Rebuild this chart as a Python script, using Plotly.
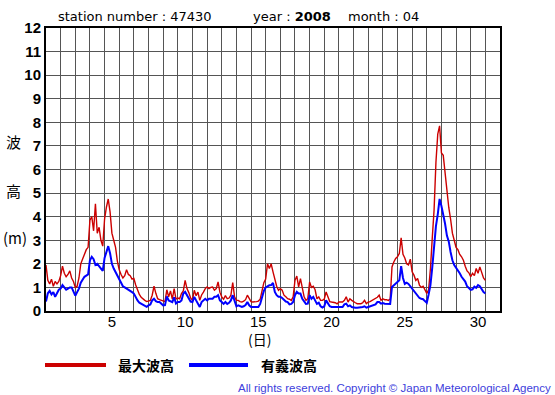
import plotly.graph_objects as go

# ---------------- data (3-hourly readings, April 2008, station 47430) ----------------
step_hours = 3
max_wave = [
    1.95, 1.3, 1.15, 1.35, 1.05, 1.25, 1.15, 1.25,
    1.5, 1.9, 1.6, 1.45, 1.55, 1.7, 1.4, 1.25,
    1.0, 1.05, 1.4, 2.0, 2.2, 2.45, 2.6, 2.7,
    3.85, 4.0, 3.4, 4.55, 3.3, 3.55, 3.0, 2.75,
    3.9, 4.4, 4.75, 4.2, 3.3, 3.0, 2.7, 2.1,
    1.75, 1.55, 1.4, 1.5, 1.75, 1.55, 1.5, 1.35,
    1.38, 1.1, 0.88, 0.7, 0.58, 0.5, 0.45, 0.4,
    0.42, 0.45, 0.67, 1.05, 0.75, 0.52, 0.48, 0.45,
    0.42, 0.4, 0.9, 0.6, 0.85, 0.5, 0.95, 0.5,
    0.55, 0.52, 0.74, 0.85, 1.3, 0.95, 0.78, 0.55,
    0.45, 0.88, 0.65, 0.8, 0.45, 0.68, 0.8, 0.95,
    1.02, 0.95, 1.0, 1.02, 0.88, 0.95, 1.23, 0.8,
    0.6, 0.5, 0.65, 0.52, 0.55, 0.67, 1.2, 0.6,
    0.45, 0.45, 0.4, 0.38, 0.42, 0.48, 0.67, 0.52,
    0.4, 0.38, 0.38, 0.4, 0.42, 0.5, 0.85, 1.2,
    1.35, 2.0, 1.8, 2.0, 1.66, 1.3, 1.05, 0.88,
    0.95, 0.88, 0.67, 0.6, 0.52, 0.5, 0.45, 0.6,
    1.3, 1.48, 1.02, 1.37, 1.0, 0.6, 0.45, 0.52,
    1.23, 1.0, 1.05, 0.9, 0.52, 0.6, 0.45, 0.45,
    0.5, 0.81, 0.6, 0.4, 0.38, 0.38, 0.35, 0.3,
    0.38, 0.38, 0.38, 0.45, 0.6, 0.38, 0.52, 0.45,
    0.38, 0.35, 0.31, 0.31, 0.31, 0.35, 0.45, 0.31,
    0.38, 0.4, 0.45, 0.48, 0.52, 0.58, 0.67, 0.45,
    0.52, 0.48, 0.48, 0.45, 0.5, 1.87, 2.08, 2.23,
    2.3, 2.44, 3.1, 2.4, 2.25, 2.0, 1.95, 2.2,
    1.66, 1.52, 1.3, 1.38, 1.1, 1.0, 1.05, 0.9,
    0.75, 0.9, 1.8, 3.1, 4.3, 6.3, 7.5, 7.85,
    6.7, 6.6, 5.9, 5.0, 4.4, 3.9, 3.3, 3.0,
    2.7, 2.6, 2.4, 2.3, 2.15, 1.9, 1.7, 1.62,
    1.45, 1.6, 1.5, 1.8, 1.6, 1.87, 1.6, 1.4,
    1.3,
]
sig_wave = [
    0.4, 0.75, 0.85, 0.7, 0.8, 0.6, 0.75, 0.9,
    0.95, 1.1, 1.0, 0.9, 0.95, 1.0, 1.0, 0.8,
    0.65, 0.8, 0.95, 1.2, 1.35, 1.45, 1.5, 1.55,
    2.15, 2.3, 2.2, 1.95, 2.0, 1.9, 1.85, 1.7,
    2.25, 2.55, 2.75, 2.45, 2.0, 1.8, 1.65, 1.45,
    1.3, 1.15, 1.05, 1.0, 0.95, 0.92, 0.88, 0.8,
    0.74, 0.58, 0.45, 0.35, 0.3, 0.26, 0.22, 0.18,
    0.24, 0.28, 0.45, 0.52, 0.42, 0.38, 0.38, 0.3,
    0.24, 0.25, 0.62, 0.45, 0.42, 0.38, 0.58, 0.32,
    0.38, 0.38, 0.45, 0.74, 0.81, 0.65, 0.5, 0.4,
    0.38, 0.6, 0.45, 0.32, 0.17, 0.38, 0.45, 0.52,
    0.45, 0.52, 0.52, 0.52, 0.6, 0.6, 0.67, 0.45,
    0.38, 0.3, 0.38, 0.3, 0.35, 0.45, 0.67, 0.38,
    0.2, 0.24, 0.2, 0.17, 0.2, 0.25, 0.38, 0.24,
    0.17, 0.17, 0.15, 0.14, 0.17, 0.3, 0.6, 0.85,
    1.0, 1.05, 1.09, 1.1, 1.19, 0.81, 0.67, 0.6,
    0.6, 0.55, 0.45, 0.4, 0.38, 0.28, 0.3, 0.38,
    0.67, 0.81, 0.74, 0.74, 0.52, 0.38, 0.3, 0.31,
    0.67, 0.52, 0.6, 0.45, 0.3, 0.35, 0.2, 0.15,
    0.2, 0.45, 0.3, 0.2, 0.17, 0.17, 0.14, 0.14,
    0.17, 0.17, 0.17, 0.28, 0.31, 0.2, 0.24, 0.17,
    0.14, 0.14, 0.14, 0.14, 0.14, 0.17, 0.2, 0.14,
    0.17, 0.2, 0.24, 0.28, 0.28, 0.38, 0.38, 0.31,
    0.34, 0.31, 0.31, 0.28, 0.3, 1.02, 1.09, 1.12,
    1.2, 1.3, 1.9, 1.4, 1.15, 1.2, 1.15, 1.05,
    0.95, 0.82, 0.72, 0.6, 0.55, 0.52, 0.5, 0.42,
    0.35, 0.7, 1.1, 1.85, 2.75, 3.6, 4.1, 4.75,
    4.45, 4.1, 3.7, 3.2, 2.95, 2.5, 2.15, 1.95,
    1.85, 1.75, 1.6, 1.45, 1.35, 1.25, 1.05, 0.98,
    0.9, 0.92, 1.03, 0.98, 1.1, 1.05, 0.9, 0.8,
    0.75,
]
day_labels = ["5", "10", "15", "20", "25", "30"]
day_label_pos = [5.5, 10.5, 15.5, 20.5, 25.5, 30.5]
series_names = ["最大波高", "有義波高"]
series_colors = ["#cc0000", "#0000ff"]

times = [1 + i * step_hours / 24 for i in range(len(max_wave))]

# ---------------- figure ----------------
W, H = 555, 395
L, R, T, B = 46, 55, 28, 84
PW, PH = W - L - R, H - T - B


def px(x):
    return (x - L) / PW


def py(y):
    return (H - B - y) / PH


fig = go.Figure()
fig.add_trace(go.Scatter(x=times, y=max_wave, mode="lines", name=series_names[0],
                         line=dict(color=series_colors[0], width=1.4), hoverinfo="skip"))
fig.add_trace(go.Scatter(x=times, y=sig_wave, mode="lines", name=series_names[1],
                         line=dict(color=series_colors[1], width=2), hoverinfo="skip"))

grid = "#555555"
fig.update_layout(
    width=W, height=H,
    margin=dict(l=L, r=R, t=T, b=B, pad=0),
    plot_bgcolor="white", paper_bgcolor="white",
    showlegend=False,
    xaxis=dict(
        range=[1, 32], tickmode="array", tickvals=day_label_pos, ticktext=day_labels,
        showgrid=False, ticks="", zeroline=False, ticklabelstandoff=-4,
        showline=True, linecolor="black", linewidth=2, mirror=True,
        tickfont=dict(family="Liberation Sans", size=15, color="black"),
        minor=dict(tickmode="linear", tick0=1, dtick=1, showgrid=True,
                   gridcolor=grid, gridwidth=1, ticks=""),
    ),
    yaxis=dict(
        range=[0, 12], tickmode="linear", tick0=0, dtick=1,
        showgrid=True, gridcolor=grid, gridwidth=1, ticks="", zeroline=False,
        showline=True, linecolor="black", linewidth=2, mirror=True,
        tickfont=dict(family="Liberation Sans", size=15, color="black", weight="bold"),
    ),
)

ann = []
title_font = dict(family="DejaVu Sans", size=13, color="black")
ann.append(dict(x=px(56), y=py(16.5), text="station number : 47430", font=title_font))
ann.append(dict(x=px(251), y=py(16.5), text="year : <b>2008</b>", font=title_font))
ann.append(dict(x=px(346), y=py(16.5), text="month : 04", font=title_font))

cjk = "Noto Sans CJK JP"
ann.append(dict(x=px(13), y=py(141), text="波", font=dict(family=cjk, size=15, color="black"),
                xanchor="center"))
ann.append(dict(x=px(13), y=py(190), text="高", font=dict(family=cjk, size=15, color="black"),
                xanchor="center"))
ann.append(dict(x=px(14.5), y=py(237.5), text="(m)", font=dict(family=cjk, size=15, color="black"),
                xanchor="center"))
ann.append(dict(x=px(259), y=py(339), text="(日)", font=dict(family=cjk, size=14, color="black"),
                xanchor="center"))

ann.append(dict(x=px(116), y=py(365), text="<b>" + series_names[0] + "</b>",
                font=dict(family=cjk, size=14, color="black")))
ann.append(dict(x=px(259), y=py(365), text="<b>" + series_names[1] + "</b>",
                font=dict(family=cjk, size=14, color="black")))
ann.append(dict(x=px(553), y=py(387.5),
                text="All rights reserved. Copyright © Japan Meteorological Agency",
                font=dict(family="Liberation Sans", size=11.5, color="#4040dc"), xanchor="right"))

for a in ann:
    a.setdefault("xanchor", "left")
    a.update(xref="paper", yref="paper", yanchor="middle", showarrow=False)
fig.update_layout(annotations=ann)

shapes = [
    dict(type="line", xref="paper", yref="paper", x0=px(45), x1=px(106), y0=py(365), y1=py(365),
         line=dict(color=series_colors[0], width=4)),
    dict(type="line", xref="paper", yref="paper", x0=px(189), x1=px(248), y0=py(365), y1=py(365),
         line=dict(color=series_colors[1], width=4)),
]
fig.update_layout(shapes=shapes)

fig.write_html(
    "out.html",
    config={"displayModeBar": False, "staticPlot": True},
    post_script="document.body.style.margin='0';document.body.style.padding='0';"
                "document.body.style.overflow='hidden';",
)
